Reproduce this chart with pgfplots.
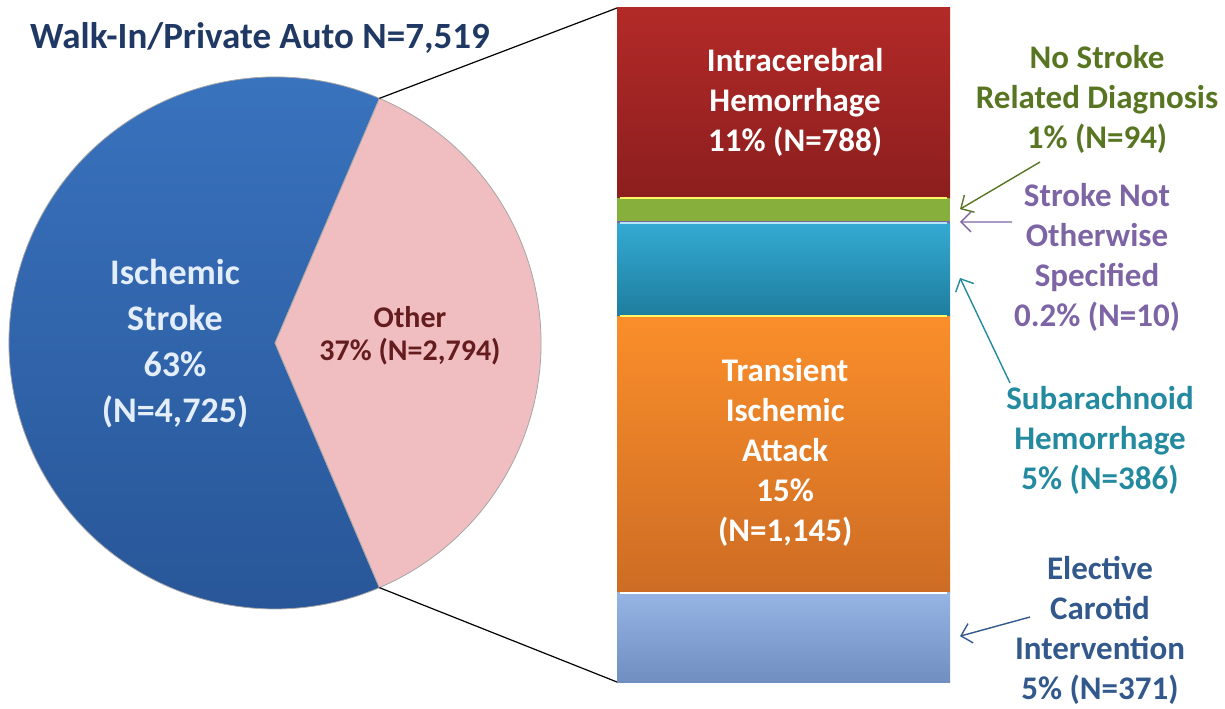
\documentclass[border=0pt]{standalone}
\usepackage{pgfplots}
\pgfplotsset{compat=1.18}
\usepackage{fontspec}
\setmainfont{Carlito}
\usetikzlibrary{arrows.meta}

\definecolor{titlecol}{RGB}{31,56,100}
\definecolor{blueT}{RGB}{58,116,192}
\definecolor{blueB}{RGB}{40,86,152}
\definecolor{pinkc}{RGB}{240,190,192}
\definecolor{redT}{RGB}{178,42,40}
\definecolor{redB}{RGB}{140,30,30}
\definecolor{greenc}{RGB}{135,175,60}
\definecolor{purpc}{RGB}{120,100,160}
\definecolor{tealT}{RGB}{52,170,210}
\definecolor{tealB}{RGB}{30,125,158}
\definecolor{oranT}{RGB}{250,142,42}
\definecolor{oranB}{RGB}{205,108,36}
\definecolor{lbluT}{RGB}{150,180,228}
\definecolor{lbluB}{RGB}{112,142,192}
\definecolor{ischtxt}{RGB}{228,238,250}
\definecolor{othtxt}{RGB}{100,28,30}
\definecolor{gtxt}{RGB}{88,118,34}
\definecolor{ptxt}{RGB}{125,100,165}
\definecolor{ttxt}{RGB}{35,138,160}
\definecolor{stxt}{RGB}{50,88,140}

\begin{document}
\begin{tikzpicture}[x=0.5pt,y=0.5pt]
\useasboundingbox (0,0) rectangle (1225,708);

% pie: Ischemic 4725, Other 2794
\pgfmathsetmacro{\ha}{2794/(4725+2794)*180}
\begin{axis}[at={(137.5pt,182.5pt)}, anchor=origin, hide axis, clip=false,
    x=0.5pt, y=0.5pt, xmin=-270, xmax=270, ymin=-270, ymax=270]
  \shade[top color=blueT, bottom color=blueB, draw=black!35, line width=0.4pt]
    (axis cs:0,0) -- (axis cs:{266*cos(\ha)},{266*sin(\ha)})
    arc[start angle=\ha, end angle={360-\ha}, radius=133pt] -- cycle;
  \fill[pinkc, draw=black!35, line width=0.4pt]
    (axis cs:0,0) -- (axis cs:{266*cos(\ha)},{266*sin(\ha)})
    arc[start angle=\ha, end angle=-\ha, radius=133pt] -- cycle;
  \coordinate (ptop) at (axis cs:{266*cos(\ha)},{266*sin(\ha)});
  \coordinate (pbot) at (axis cs:{266*cos(\ha)},{-266*sin(\ha)});
  \node[font=\fontsize{18}{23}\selectfont\bfseries, text=ischtxt, align=center]
    at (axis cs:-100,-1) {Ischemic\\Stroke\\63\%\\(N=4,725)};
  \node[font=\fontsize{15}{16.5}\selectfont\bfseries, text=othtxt, align=center]
    at (axis cs:135,7) {Other\\37\% (N=2,794)};
\end{axis}

% bar of the "Other" slice
\begin{axis}[at={(308.5pt,13pt)}, anchor=south west, hide axis, clip=false,
    scale only axis, width=166.5pt, height=337pt,
    xmin=-0.5, xmax=0.5, ymin=0, ymax=2794,
    ybar stacked, bar width=1]
  \addplot[draw=none, top color=lbluT, bottom color=lbluB] coordinates {(0,371)};
  \addplot[draw=none, top color=oranT, bottom color=oranB] coordinates {(0,1145)};
  \addplot[draw=none, top color=tealT, bottom color=tealB] coordinates {(0,386)};
  \addplot[draw=none, fill=purpc] coordinates {(0,10)};
  \addplot[draw=none, fill=greenc] coordinates {(0,94)};
  \addplot[draw=none, top color=redT, bottom color=redB] coordinates {(0,788)};
  \coordinate (btop) at (axis cs:-0.5,2794);
  \coordinate (bbot) at (axis cs:-0.5,0);
  \coordinate (tipG) at (axis cs:0.53,1960);
  \coordinate (tipP) at (axis cs:0.53,1907);
  \coordinate (tipT) at (axis cs:0.53,1675);
  \coordinate (tipS) at (axis cs:0.53,190);
  \coordinate (labICH) at (axis cs:0.035,2404);
  \coordinate (labTIA) at (axis cs:0.005,953);
  % light bevel lines on top of segments
  \coordinate (e1l) at (axis cs:-0.49,371);  \coordinate (e1r) at (axis cs:0.49,371);
  \coordinate (e2l) at (axis cs:-0.49,1516); \coordinate (e2r) at (axis cs:0.49,1516);
  \coordinate (e3l) at (axis cs:-0.49,1902); \coordinate (e3r) at (axis cs:0.49,1902);
  \coordinate (e4l) at (axis cs:-0.49,2006); \coordinate (e4r) at (axis cs:0.49,2006);
\end{axis}

\draw[white, line width=1pt] (e1l) -- (e1r);
\draw[yellow!60!white, line width=1pt] (e2l) -- (e2r);
\draw[cyan!30!white, line width=1pt] (e3l) -- (e3r);
\draw[yellow!60!white, line width=1pt] (e4l) -- (e4r);

\node[font=\fontsize{16.5}{20}\selectfont\bfseries, text=white, align=center]
  at (labICH) {Intracerebral\\Hemorrhage\\11\% (N=788)};
\node[font=\fontsize{16.5}{20}\selectfont\bfseries, text=white, align=center]
  at (labTIA) {Transient\\Ischemic\\Attack\\15\%\\(N=1,145)};

\draw[black, line width=0.6pt] (ptop) -- (btop);
\draw[black, line width=0.6pt] (pbot) -- (bbot);

\node[font=\fontsize{18.5}{20}\selectfont\bfseries, text=titlecol] at (260,670)
  {Walk-In/Private Auto N=7,519};

\tikzset{lab/.style={font=\fontsize{16.5}{20}\selectfont\bfseries, align=center}}
\node[lab, text=gtxt] at (1097,609) {No Stroke\\Related Diagnosis\\1\% (N=94)};
\node[lab, text=ptxt] at (1097,451) {Stroke Not\\Otherwise\\Specified\\0.2\% (N=10)};
\node[lab, text=ttxt] at (1100,268) {Subarachnoid\\Hemorrhage\\5\% (N=386)};
\node[lab, text=stxt] at (1100,78) {Elective\\Carotid\\Intervention\\5\% (N=371)};

\draw[gtxt, line width=0.7pt, -{Straight Barb[length=5pt]}] (1040,546) -- (tipG);
\draw[ptxt, line width=0.7pt, -{Straight Barb[length=5pt]}] (1012,486) -- (tipP);
\draw[ttxt, line width=0.7pt, -{Straight Barb[length=5pt]}] (1010,325) -- (tipT);
\draw[stxt, line width=0.7pt, -{Straight Barb[length=5pt]}] (1030,91) -- (tipS);
\end{tikzpicture}
\end{document}
